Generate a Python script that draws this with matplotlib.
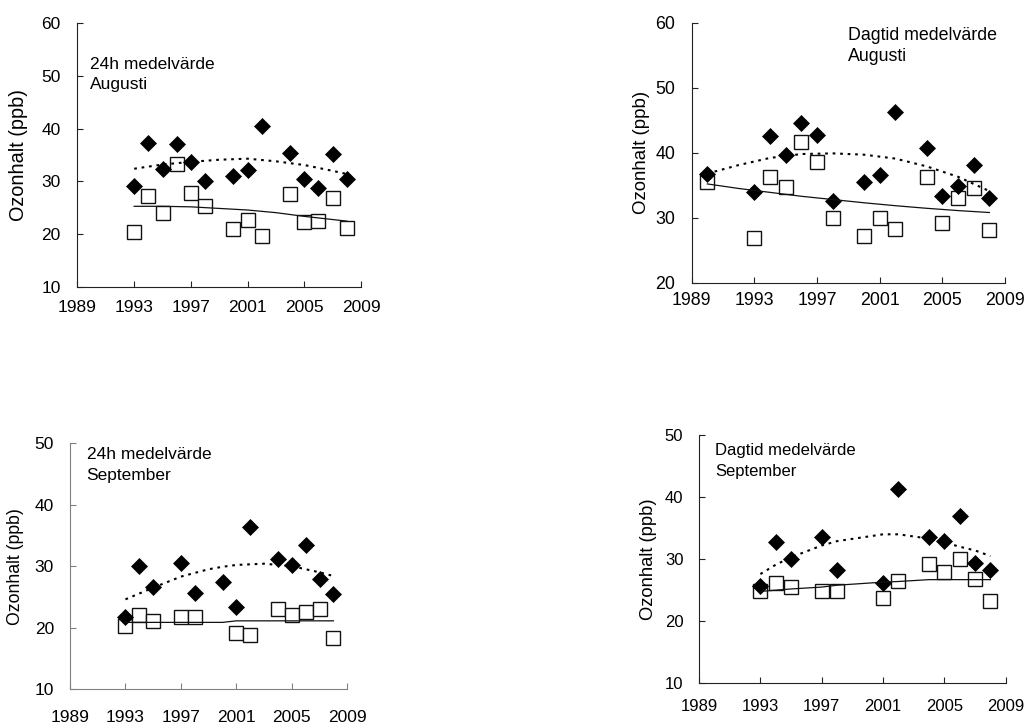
import numpy as np
import matplotlib.pyplot as plt

plt.rcParams['font.family'] = ['Liberation Sans', 'DejaVu Sans']

# August, 24h mean
aug24_years = [1993, 1994, 1995, 1996, 1997, 1998, 2000, 2001, 2002, 2004, 2005, 2006, 2007, 2008]
aug24_filled = [29.1, 37.3, 32.3, 37.1, 33.6, 30.1, 31.1, 32.2, 40.5, 35.4, 30.4, 28.8, 35.2, 30.4]
aug24_open = [20.4, 27.3, 24.1, 33.2, 27.9, 25.4, 21.1, 22.8, 19.6, 27.6, 22.3, 22.5, 26.8, 21.2]
aug24_trend_years = [1993, 1995, 1997, 1999, 2001, 2003, 2005, 2007, 2008]
aug24_trend_filled = [32.4, 33.2, 33.7, 34.1, 34.3, 33.8, 33.1, 32.0, 31.4]
aug24_trend_open = [25.3, 25.3, 25.2, 24.9, 24.6, 24.1, 23.4, 22.8, 22.5]

# August, daytime mean
augday_years = [1990, 1993, 1994, 1995, 1996, 1997, 1998, 2000, 2001, 2002, 2004, 2005, 2006, 2007, 2008]
augday_filled = [36.8, 34.0, 42.6, 39.7, 44.5, 42.8, 32.6, 35.5, 36.6, 46.3, 40.7, 33.4, 34.9, 38.1, 33.1]
augday_open = [35.5, 26.9, 36.3, 34.8, 41.6, 38.6, 30.0, 27.2, 30.0, 28.3, 36.2, 29.2, 33.0, 34.5, 28.1]
augday_trend_years = [1990, 1992, 1994, 1996, 1998, 2000, 2002, 2004, 2006, 2008]
augday_trend_filled = [36.8, 38.1, 39.2, 39.8, 39.9, 39.7, 39.1, 37.9, 36.3, 34.1]
augday_trend_open = [35.2, 34.5, 33.9, 33.3, 32.8, 32.3, 31.85, 31.45, 31.1, 30.8]

# September, 24h mean
sep24_years_filled = [1993, 1994, 1995, 1997, 1998, 2000, 2001, 2002, 2004, 2005, 2006, 2007, 2008]
sep24_filled = [21.7, 30.0, 26.6, 30.5, 25.7, 27.5, 23.4, 36.4, 31.1, 30.2, 33.4, 27.9, 25.4]
sep24_years_open = [1993, 1994, 1995, 1997, 1998, 2001, 2002, 2004, 2005, 2006, 2007, 2008]
sep24_open = [20.3, 22.0, 21.0, 21.7, 21.7, 19.2, 18.8, 23.1, 22.0, 22.6, 23.0, 18.3]
sep24_trend_years = [1993, 1995, 1997, 1999, 2000, 2001, 2003, 2005, 2007, 2008]
sep24_trend_filled = [24.6, 26.5, 28.3, 29.5, 29.9, 30.2, 30.4, 30.0, 29.0, 28.4]
sep24_trend_open = [20.85, 20.85, 20.85, 20.85, 20.85, 21.1, 21.1, 21.1, 21.1, 21.1]

# September, daytime mean
sepday_years = [1993, 1994, 1995, 1997, 1998, 2001, 2002, 2004, 2005, 2006, 2007, 2008]
sepday_filled = [25.7, 32.7, 30.0, 33.6, 28.3, 26.2, 41.3, 33.6, 33.0, 36.9, 29.4, 28.3]
sepday_open = [24.9, 26.1, 25.5, 24.9, 24.9, 23.7, 26.4, 29.2, 27.9, 30.0, 26.8, 23.2]
sepday_trend_years_filled = [1993, 1994, 1995, 1997, 1998, 2001, 2002, 2004, 2005, 2006, 2007, 2008]
sepday_trend_filled = [27.6, 29.1, 30.3, 32.2, 32.9, 34.0, 34.0, 33.3, 32.7, 32.0, 31.4, 30.5]
sepday_trend_years_open = [1993, 1995, 1997, 1998, 2001, 2002, 2004, 2008]
sepday_trend_open = [24.8, 25.2, 25.5, 25.8, 26.3, 26.4, 26.7, 26.7]

year_ticks = [1989, 1993, 1997, 2001, 2005, 2009]

fig = plt.figure(figsize=(10.25, 7.24), dpi=100)


def panel(rect, yticks, yrs_f, filled, yrs_o, opened, tyrs_f, tfilled, tyrs_o, topen,
          label, label_xy, fs, lsp, ylab_fs, ylab_x, ypad, xpad, spine_col='#222222'):
    ax = fig.add_axes(rect)
    ax.plot(yrs_o, opened, linestyle='none', marker='s', markersize=9.6,
            markerfacecolor='white', markeredgecolor='#111111', markeredgewidth=1.0, zorder=2)
    ax.plot(yrs_f, filled, linestyle='none', marker='D', markersize=7.9,
            markerfacecolor='black', markeredgecolor='black', markeredgewidth=0.5, zorder=3)
    ax.plot(tyrs_o, topen, color='#111111', linewidth=0.9, zorder=4)
    ax.plot(tyrs_f, tfilled, color='black', linewidth=1.5,
            linestyle=(0, (1.3, 2.3)), zorder=4)

    ax.set_xlim(1989, 2009)
    ax.set_ylim(yticks[0], yticks[-1])
    ax.set_xticks(year_ticks)
    ax.set_yticks(yticks)
    for side in ['top', 'right']:
        ax.spines[side].set_visible(False)
    for side in ['left', 'bottom']:
        ax.spines[side].set_color(spine_col)
        ax.spines[side].set_linewidth(0.8)
    ax.tick_params(axis='both', direction='in', length=4.5, width=0.8,
                   color=spine_col, labelsize=fs, labelcolor='black')
    ax.tick_params(axis='y', pad=ypad)
    ax.tick_params(axis='x', pad=xpad)

    ax.set_ylabel('Ozonhalt (ppb)', fontsize=ylab_fs, va='center')
    ax.yaxis.set_label_coords(ylab_x, 0.5)
    ax.text(label_xy[0], label_xy[1], label, transform=ax.transAxes,
            fontsize=fs, ha='left', va='top', linespacing=lsp)
    return ax


panel([0.0756, 0.6032, 0.2766, 0.3655], [10, 20, 30, 40, 50, 60],
      aug24_years, aug24_filled, aug24_years, aug24_open,
      aug24_trend_years, aug24_trend_filled, aug24_trend_years, aug24_trend_open,
      '24h medelvärde\nAugusti', (0.044, 0.869), 12.5, 1.38, 14.3, -0.209, 12, 9)

panel([0.6748, 0.6095, 0.3057, 0.3591], [20, 30, 40, 50, 60],
      augday_years, augday_filled, augday_years, augday_open,
      augday_trend_years, augday_trend_filled, augday_trend_years, augday_trend_open,
      'Dagtid medelvärde\nAugusti', (0.5, 0.985), 12.8, 1.35, 13.4, -0.16, 12, 7)

panel([0.0683, 0.0483, 0.2705, 0.3394], [10, 20, 30, 40, 50],
      sep24_years_filled, sep24_filled, sep24_years_open, sep24_open,
      sep24_trend_years, sep24_trend_filled, sep24_trend_years, sep24_trend_open,
      '24h medelvärde\nSeptember', (0.06, 0.984), 12.5, 1.45, 12.7, -0.198, 11.5, 15,
      spine_col='#808080')

panel([0.6820, 0.0562, 0.2992, 0.3430], [10, 20, 30, 40, 50],
      sepday_years, sepday_filled, sepday_years, sepday_open,
      sepday_trend_years_filled, sepday_trend_filled, sepday_trend_years_open, sepday_trend_open,
      'Dagtid medelvärde\nSeptember', (0.052, 0.967), 12.0, 1.46, 13.2, -0.165, 11.3, 11.5)

fig.savefig('out.png', dpi=100)
